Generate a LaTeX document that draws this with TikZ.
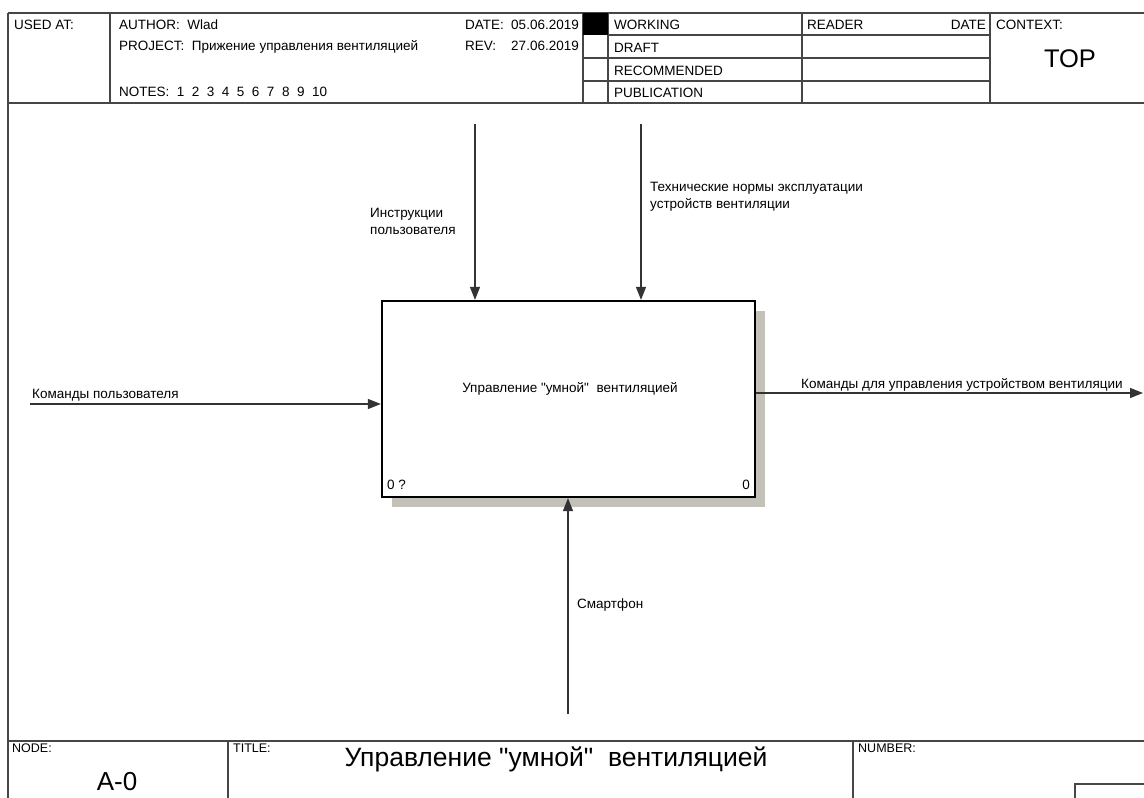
\documentclass[tikz,border=0pt]{standalone}
\usepackage{fontspec}
\setmainfont{Liberation Sans}[Ligatures=TeXOff]
\usetikzlibrary{arrows.meta}
\definecolor{frame}{RGB}{70,70,70}
\definecolor{shadowgray}{RGB}{196,193,184}
\tikzset{
  frameline/.style={draw=frame, line width=1.6pt},
  flow/.style={draw=black!80, line width=1.1pt, -{Triangle[length=13pt,width=10pt]}},
  hdr/.style={font=\fontsize{13.5}{16}\selectfont, anchor=base west, inner sep=0pt},
  lbl/.style={font=\fontsize{13.5}{17}\selectfont, anchor=base west, inner sep=0pt, align=left},
  small/.style={font=\fontsize{12.5}{14}\selectfont, anchor=base west, inner sep=0pt},
}
\begin{document}
\begin{tikzpicture}[x=1pt,y=-1pt]
\useasboundingbox (0,0) rectangle (1144,798);
% header frame
\draw[frameline] (8,13) -- (1144,13);
\draw[frameline] (8,103) -- (1144,103);
\draw[frameline] (8,13) -- (8,798);
\draw[frameline] (110,13) -- (110,103);
\draw[frameline] (583,13) -- (583,103);
\draw[frameline] (608,13) -- (608,103);
\draw[frameline] (802,13) -- (802,103);
\draw[frameline] (990,13) -- (990,103);
\draw[frameline] (608,35) -- (990,35);
\draw[frameline] (583,58) -- (990,58);
\draw[frameline] (583,81) -- (990,81);
\fill[black] (583,13) rectangle (608,35);
% header text
\node[hdr] (usedat) at (14,29) {USED AT:};
\node[hdr] (author) at (119,29) {AUTHOR:\ \ Wlad};
\node[hdr] (project) at (119,50) {PROJECT:\ \ Прижение управления вентиляцией};
\node[hdr] (notes) at (119,96) {NOTES:\ \ 1\ \ 2\ \ 3\ \ 4\ \ 5\ \ 6\ \ 7\ \ 8\ \ 9\ \ 10};
\node[hdr] (date) at (465,29) {DATE:};
\node[hdr, anchor=base east] (dateval) at (579,29) {05.06.2019};
\node[hdr] (rev) at (465,50) {REV:};
\node[hdr, anchor=base east] (revval) at (579,50) {27.06.2019};
\node[hdr] (working) at (614,29) {WORKING};
\node[hdr] (draft) at (614,52) {DRAFT};
\node[hdr] (recommended) at (614,75) {RECOMMENDED};
\node[hdr] (publication) at (614,97) {PUBLICATION};
\node[hdr] (reader) at (807,29) {READER};
\node[hdr, anchor=base east] (rdate) at (986,29) {DATE};
\node[hdr] (context) at (996,29) {CONTEXT:};
\node[font=\fontsize{25.5}{28}\selectfont, anchor=base, inner sep=0pt] (top) at (1070,67) {TOP};
% footer frame
\draw[frameline] (8,741) -- (1144,741);
\draw[frameline] (228,741) -- (228,798);
\draw[frameline] (853,741) -- (853,798);
\draw[draw=frame, line width=1.2pt] (1075,798) -- (1075,784) -- (1144,784);
\node[small] (nodelbl) at (12,752) {NODE:};
\node[font=\fontsize{26}{28}\selectfont, anchor=base, inner sep=0pt] (nodeval) at (117,790) {A-0};
\node[small] (titlelbl) at (233,752) {TITLE:};
\node[font=\fontsize{26.5}{28}\selectfont, anchor=base, inner sep=0pt] (titleval) at (556,766) {Управление "умной"\ \ вентиляцией};
\node[small] (numberlbl) at (858,752) {NUMBER:};
% activity box
\fill[shadowgray] (392,311) rectangle (765,507);
\node[draw=black, line width=2.2pt, fill=white, minimum width=373pt, minimum height=196pt, inner sep=0pt] (box) at (568.5,399) {};
\node[lbl, anchor=base] (boxtxt) at (570,392) {Управление "умной"\ \ вентиляцией};
\node[lbl] (boxnum) at (387,489) {0 ?};
\node[lbl, anchor=base east] (boxno) at (750,489) {0};
% connectors
\coordinate (c1) at (475,124);
\coordinate (c2) at (641,124);
\coordinate (in1) at (30,404);
\coordinate (out1) at (1143,393);
\coordinate (m1) at (568,714);
\draw[flow] (c1) -- (c1 |- box.north);
\draw[flow] (c2) -- (c2 |- box.north);
\draw[flow] (in1) -- (in1 -| box.west);
\draw[flow] (out1 -| box.east) -- (out1);
\draw[flow] (m1) -- (m1 |- box.south);
% connector labels
\node[lbl] (lc1) at (370,234) {Инструкции\\пользователя};
\node[lbl] (lc2) at (650,208) {Технические нормы эксплуатации\\устройств вентиляции};
\node[lbl] (li1) at (32,398) {Команды пользователя};
\node[lbl] (lo1) at (801,388) {Команды для управления устройством вентиляции};
\node[lbl] (lm1) at (577,608) {Смартфон};
\end{tikzpicture}
\end{document}
